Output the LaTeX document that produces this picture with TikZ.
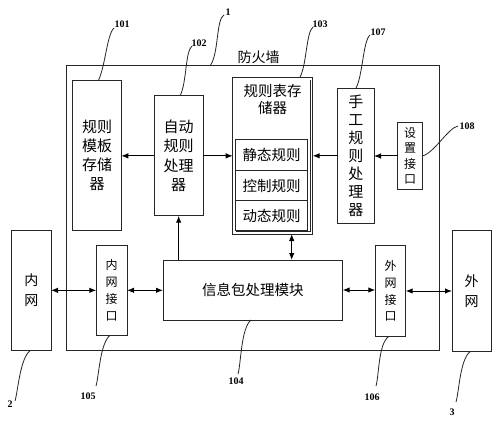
\documentclass[tikz,border=0pt]{standalone}
\usepackage{fontspec}
\setmainfont{Liberation Serif}
\newfontfamily\cjk{Noto Sans CJK SC}
\usetikzlibrary{arrows.meta,calc}
\begin{document}
\begin{tikzpicture}[x=1pt,y=-1pt,
  box/.style={draw=black!85,line width=1pt,inner sep=0pt,outer sep=0pt,align=center},
  cn/.style 2 args={font=\cjk\fontsize{#1}{#2}\selectfont},
  arr/.style={line width=1pt,-{Latex[length=7pt,width=5.5pt]}},
  darr/.style={line width=1pt,{Latex[length=7pt,width=5.5pt]}-{Latex[length=7pt,width=5.5pt]}},
  lead/.style={line width=0.8pt,black!85},
  lbl/.style={font=\bfseries\fontsize{10}{10}\selectfont,inner sep=0pt}]
\useasboundingbox (0,0) rectangle (500,422);
\fill[white] (0,0) rectangle (500,422);

% firewall
\node[box,minimum width=372.6pt,minimum height=284.7pt] (fw) at (253,208.35) {};
\node[cn={14}{14}] (fwt) at (258.5,57) {防火墙};

% boxes
\node[box,minimum width=48.6pt,minimum height=149.3pt,cn={15}{19.3}] (b101) at (97,155.35) {规则\\模板\\存储\\器};
\node[box,minimum width=48.7pt,minimum height=119.7pt,cn={15}{19.3}] (b102) at (178.65,155.85) {自动\\规则\\处理\\器};
\node[box,minimum width=80pt,minimum height=156.7pt] (b103) at (272.7,155.65) {};
\draw[line width=0.8pt,black!85] ($(b103.north east)+(-2.5,3)$) |- ($(b103.south west)+(3,-2.5)$);
\node[cn={14.5}{17}, align=center] (b103t) at (272.7,99.5) {规则表存\\储器};
\node[box,minimum width=72.4pt,minimum height=30.7pt,cn={14.5}{14.5}] (r1) at (271.5,155.35) {静态规则};
\node[box,minimum width=72.4pt,minimum height=30pt,cn={14.5}{14.5}] (r2) at (271.5,185.7) {控制规则};
\node[box,minimum width=72.4pt,minimum height=30pt,cn={14.5}{14.5}] (r3) at (271.5,215.7) {动态规则};
\node[box,minimum width=36.3pt,minimum height=135pt,cn={15}{18}] (b107) at (355.85,155.8) {手\\工\\规\\则\\处\\理\\器};
\node[box,minimum width=24.6pt,minimum height=66.6pt,cn={12}{15.5}] (b108) at (410,156) {设\\置\\接\\口};
\node[box,minimum width=39.3pt,minimum height=120.7pt,cn={14}{20}] (b2) at (31.35,290.35) {内\\网};
\node[box,minimum width=30.7pt,minimum height=90pt,cn={12}{16.7}] (b105) at (111.65,290.3) {内\\网\\接\\口};
\node[box,minimum width=179.7pt,minimum height=60pt,cn={14.5}{14.5}] (b104) at (252.85,290) {信息包处理模块};
\node[box,minimum width=30.4pt,minimum height=91.4pt,cn={12}{16.7}] (b106) at (390.5,291) {外\\网\\接\\口};
\node[box,minimum width=39.3pt,minimum height=121pt,cn={14}{20}] (b3) at (471.65,291.2) {外\\网};

% arrows
\draw[arr] (b102.west) -- (b101.east |- b102.west);
\draw[arr] (b102.east) -- (b103.west |- b102.east);
\draw[arr] (b107.west) -- (b103.east |- b107.west);
\draw[arr] (b108.west) -- (b107.east |- b108.west);
\draw[darr] (b2.east) -- (b105.west |- b2.east);
\draw[darr] (b105.east) -- (b104.west |- b105.east);
\draw[darr] (b104.east) -- (b106.west |- b104.east);
\draw[darr] (b106.east) -- (b3.west |- b106.east);
\draw[arr] (b102.south |- b104.north) -- (b102.south);
\coordinate (a103) at (291.7,234);
\draw[darr] (a103) -- (a103 |- b104.north);

% labels
\node[lbl] (l1) at (228,12) {1};
\node[lbl] (l101) at (122,24) {101};
\node[lbl] (l102) at (199,43) {102};
\node[lbl] (l103) at (320,24) {103};
\node[lbl] (l107) at (378,32) {107};
\node[lbl] (l108) at (467,126) {108};
\node[lbl] (l2) at (10,404) {2};
\node[lbl] (l105) at (88,396) {105};
\node[lbl] (l104) at (236,381) {104};
\node[lbl] (l106) at (372,397) {106};
\node[lbl] (l3) at (452,412) {3};

\coordinate (c1) at (210,66);
\coordinate (c101) at (98.3,80.7);
\coordinate (c102) at (180,96);
\coordinate (c103) at (300,77.3);
\coordinate (c107) at (356,88.3);
\coordinate (c108) at (422.3,156);
\coordinate (c2) at (30,350.7);
\coordinate (c105) at (110,335.3);
\coordinate (c104) at (251,320);
\coordinate (c106) at (388.3,336.7);
\coordinate (c3) at (470,351.7);

\draw[lead] (c1) .. controls +(9,-12) and +(-8,4) .. (224,15);
\draw[lead] (c101) .. controls +(7,-14) and +(-7,6) .. (114,28);
\draw[lead] (c102) .. controls +(7,-14) and +(-7,6) .. (192,46);
\draw[lead] (c103) .. controls +(7,-14) and +(-7,6) .. (313,27);
\draw[lead] (c107) .. controls +(7,-14) and +(-7,6) .. (370,35);
\draw[lead] (c108) .. controls +(12,-3) and +(-10,2) .. (458,126);
\draw[lead] (c2) .. controls +(-10,8) and +(3,-10) .. (15,401);
\draw[lead] (c105) .. controls +(-10,8) and +(3,-10) .. (96,386);
\draw[lead] (c104) .. controls +(-10,8) and +(3,-10) .. (238,374);
\draw[lead] (c106) .. controls +(-10,8) and +(3,-10) .. (376,386);
\draw[lead] (c3) .. controls +(-10,8) and +(3,-10) .. (456,402);
\end{tikzpicture}
\end{document}
